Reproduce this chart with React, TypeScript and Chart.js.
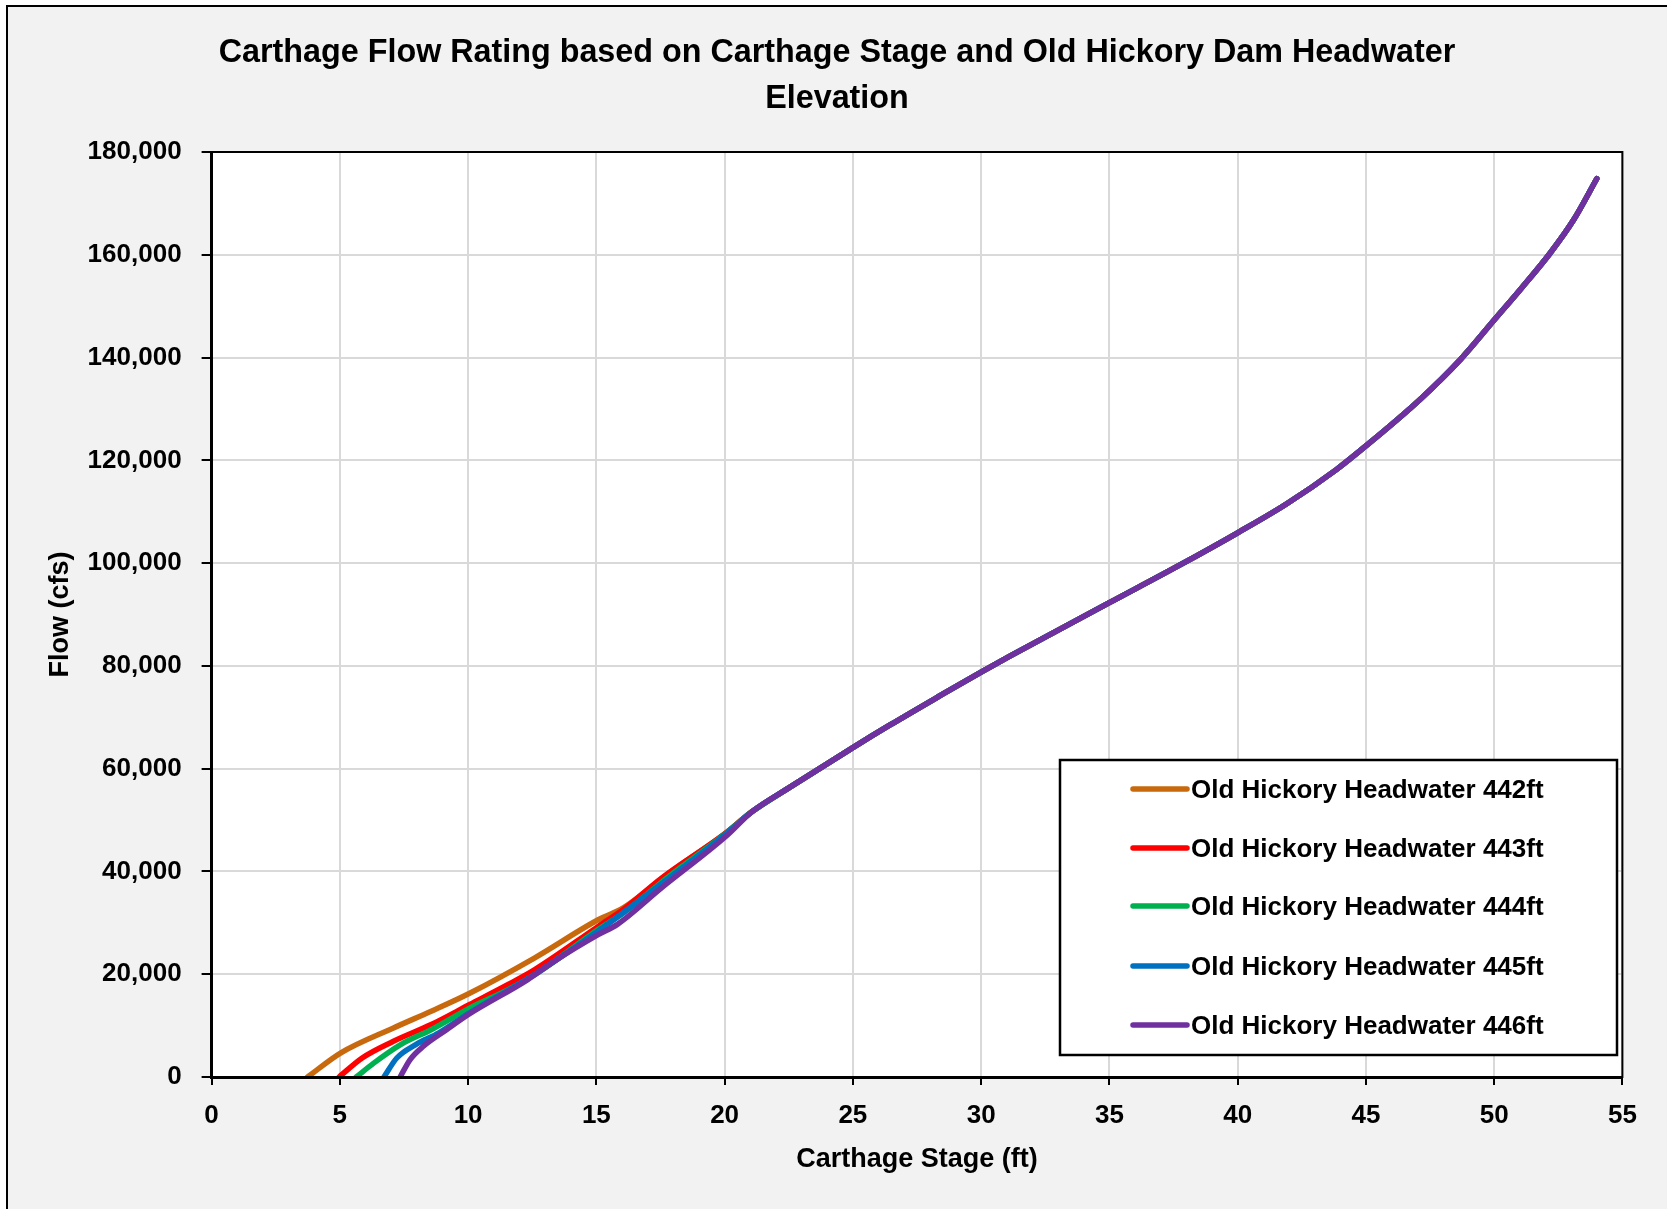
import { useEffect, useRef } from "react";
import { Chart, registerables } from "chart.js";

Chart.register(...registerables);

// ---- text ----
const chartTitle = [
  "Carthage Flow Rating based on Carthage Stage and Old Hickory Dam Headwater",
  "Elevation",
];
const xAxisTitle = "Carthage Stage (ft)";
const yAxisTitle = "Flow (cfs)";

// ---- series ----
const seriesLabels = [
  "Old Hickory Headwater 442ft",
  "Old Hickory Headwater 443ft",
  "Old Hickory Headwater 444ft",
  "Old Hickory Headwater 445ft",
  "Old Hickory Headwater 446ft",
];
const seriesColors = ["#c8690e", "#ff0000", "#00b050", "#0070c0", "#7030a0"];

// Low-stage branch of each rating (stage ft, flow cfs)
const stage442 = [3.74, 5.04, 7.07, 8.56, 10.06, 12.6, 15.07, 16.05, 17.84, 20.0];
const flow442 = [0, 4700, 9500, 12800, 16300, 23200, 30600, 32900, 39700, 47300];

const stage443 = [4.97, 5.87, 7.07, 8.56, 10.06, 11.56, 12.6, 15.07, 16.05, 17.54, 20.0];
const flow443 = [0, 3700, 6900, 10200, 14100, 18000, 20900, 29300, 32600, 38700, 47300];

const stage444 = [5.64, 6.32, 7.37, 8.56, 10.06, 11.56, 12.6, 15.07, 16.05, 17.84, 20.0];
const flow444 = [0, 2700, 6300, 9200, 13400, 17000, 19900, 28700, 31900, 39100, 47200];

const stage445 = [6.72, 7.22, 7.96, 8.86, 10.06, 12.6, 15.07, 17.54, 20.0];
const flow445 = [0, 3700, 6300, 8600, 12500, 20000, 28400, 37600, 47100];

const stage446 = [7.35, 7.74, 8.26, 9.16, 10.06, 12.31, 13.35, 15.07, 15.82, 17.54, 20.09];
const flow446 = [0, 3400, 6000, 9200, 12300, 18900, 22500, 27700, 29700, 36800, 47000];

// Upper branch shared by all headwater elevations
const stageShared = [21.06, 22.55, 25, 26.45, 28.4, 30, 31.12, 35, 37.7, 40, 41.9, 43.85, 45, 47.1, 48.7, 50, 51.03, 52.18, 53.1, 54];
const flowShared = [51600, 56400, 64100, 68500, 74200, 78800, 81900, 92300, 99500, 105900, 111500, 118200, 122800, 131800, 139700, 147300, 153300, 160300, 166800, 174800];

// ---- axes ----
const xTickValues = [0, 5, 10, 15, 20, 25, 30, 35, 40, 45, 50, 55];
const yTickValues = [0, 20000, 40000, 60000, 80000, 100000, 120000, 140000, 160000, 180000];

const lowStages = [stage442, stage443, stage444, stage445, stage446];
const lowFlows = [flow442, flow443, flow444, flow445, flow446];

const FONT = '"Liberation Sans", Arial, sans-serif';

function buildSeries(stages: number[], flows: number[]) {
  const pts = stages.map((s, i) => ({ x: s, y: flows[i] }));
  stageShared.forEach((s, i) => pts.push({ x: s, y: flowShared[i] }));
  return pts;
}

const decorPlugin = {
  id: "decor",
  beforeDraw(chart: any) {
    const { ctx, chartArea: a } = chart;
    ctx.save();
    ctx.fillStyle = "#ffffff";
    ctx.fillRect(a.left, a.top, a.right - a.left, a.bottom - a.top);
    ctx.restore();
  },
  afterDraw(chart: any) {
    const { ctx, chartArea: a } = chart;
    ctx.save();
    // plot frame
    ctx.strokeStyle = "#000";
    ctx.lineWidth = 2;
    ctx.strokeRect(a.left, a.top, a.right - a.left, a.bottom - a.top);

    // title
    ctx.fillStyle = "#000";
    ctx.font = `bold 32.3px ${FONT}`;
    ctx.textAlign = "center";
    ctx.textBaseline = "alphabetic";
    ctx.fillText(chartTitle[0], 837, 62);
    ctx.fillText(chartTitle[1], 837, 108);

    // legend box
    const bx = 1060, by = 760, bw = 557, bh = 295;
    ctx.fillStyle = "#fff";
    ctx.fillRect(bx, by, bw, bh);
    ctx.strokeStyle = "#000";
    ctx.lineWidth = 2.5;
    ctx.strokeRect(bx, by, bw, bh);

    const rowY = [789, 848, 906, 966, 1025];
    ctx.font = `bold 26px ${FONT}`;
    ctx.textAlign = "left";
    ctx.textBaseline = "alphabetic";
    chart.data.datasets.forEach((ds: any, i: number) => {
      const y = rowY[i];
      ctx.strokeStyle = ds.borderColor;
      ctx.lineWidth = 5.5;
      ctx.lineCap = "round";
      ctx.beginPath();
      ctx.moveTo(1133, y);
      ctx.lineTo(1187, y);
      ctx.stroke();
      ctx.fillStyle = "#000";
      ctx.fillText(ds.label, 1191, y + 9);
    });
    ctx.restore();
  },
};

export default function App() {
  const canvasRef = useRef<HTMLCanvasElement | null>(null);

  useEffect(() => {
    const canvas = canvasRef.current;
    if (!canvas) return;
    const chart = new Chart(canvas, {
      type: "line",
      data: {
        datasets: seriesLabels.map((label, i) => ({
          label,
          data: buildSeries(lowStages[i], lowFlows[i]),
          borderColor: seriesColors[i],
          backgroundColor: seriesColors[i],
          borderWidth: 5.5,
          pointRadius: 0,
          fill: false,
          cubicInterpolationMode: "monotone" as const,
          borderJoinStyle: "round" as const,
          borderCapStyle: "round" as const,
          order: seriesLabels.length - i,
        })),
      },
      options: {
        responsive: false,
        animation: false,
        layout: { padding: { top: 152, right: 44.6, bottom: 0, left: 0 } },
        plugins: {
          legend: { display: false },
          title: { display: false },
          tooltip: { enabled: false },
        },
        scales: {
          x: {
            type: "linear",
            min: 0,
            max: 55,
            afterBuildTicks: (scale: any) => {
              scale.ticks = xTickValues.map((v) => ({ value: v }));
            },
            afterFit: (scale: any) => {
              scale.height = 132;
            },
            grid: {
              color: "#d9d9d9",
              lineWidth: 2,
              tickColor: "#000",
              tickLength: 8,
              tickWidth: 2,
            },
            border: { color: "#000", width: 3 },
            ticks: {
              color: "#000",
              font: { family: FONT, size: 26, weight: "bold" },
              padding: 15,
              maxRotation: 0,
            },
            title: {
              display: true,
              text: xAxisTitle,
              color: "#000",
              font: { family: FONT, size: 27, weight: "bold" },
              padding: { top: 0, bottom: 32.8 },
            },
          },
          y: {
            type: "linear",
            min: 0,
            max: 180000,
            afterBuildTicks: (scale: any) => {
              scale.ticks = yTickValues.map((v) => ({ value: v }));
            },
            afterFit: (scale: any) => {
              scale.width = 211.6;
            },
            grid: {
              color: "#d9d9d9",
              lineWidth: 2,
              tickColor: "#000",
              tickLength: 10,
              tickWidth: 2,
            },
            border: { color: "#000", width: 3 },
            ticks: {
              color: "#000",
              font: { family: FONT, size: 26, weight: "bold" },
              padding: 20,
              callback: (v: any) => Number(v).toLocaleString("en-US"),
            },
            title: {
              display: true,
              text: yAxisTitle,
              color: "#000",
              font: { family: FONT, size: 27, weight: "bold" },
              padding: { top: 44.4, bottom: 0 },
            },
          },
        },
      },
      plugins: [decorPlugin],
    });
    return () => chart.destroy();
  }, []);

  return (
    <>
      <div
        style={{
          position: "fixed",
          left: 6,
          top: 5,
          width: 1700,
          height: 1250,
          background: "#f2f2f2",
          borderLeft: "2px solid #000",
          borderTop: "2px solid #000",
        }}
      />
      <canvas
        ref={canvasRef}
        width={1667}
        height={1209}
        style={{ position: "fixed", left: 0, top: 0, display: "block" }}
      />
    </>
  );
}
